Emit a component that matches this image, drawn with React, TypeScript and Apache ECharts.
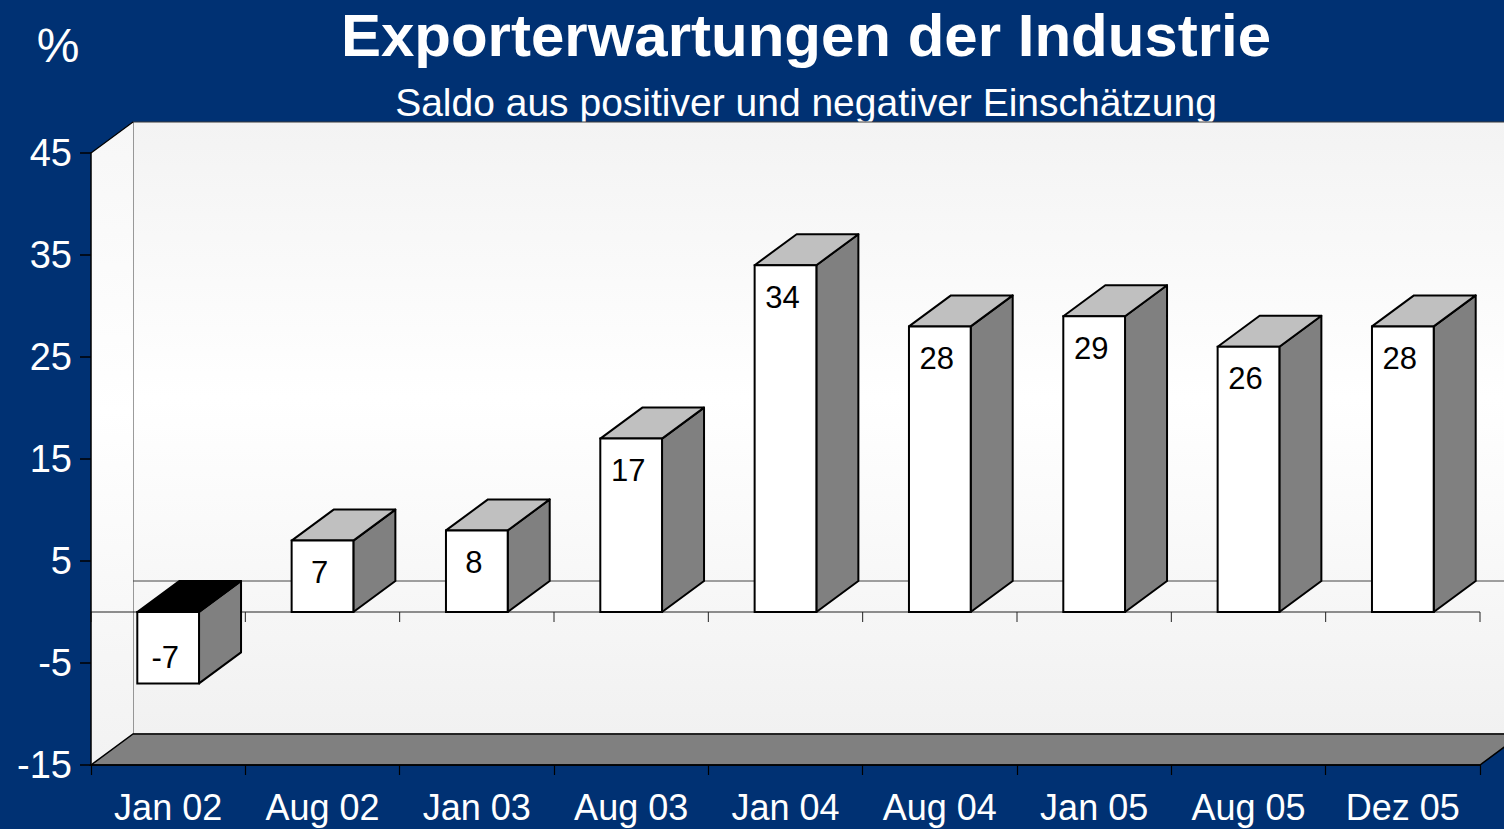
import React, { useEffect, useRef } from "react";
import * as echarts from "echarts";

// ---- data ----
const categories = ["Jan 02", "Aug 02", "Jan 03", "Aug 03", "Jan 04", "Aug 04", "Jan 05", "Aug 05", "Dez 05"];
const saldo = [-7, 7, 8, 17, 34, 28, 29, 26, 28];
const yTickValues = [-15, -5, 5, 15, 25, 35, 45];
const yMin = -15;
const yMax = 45;
const titleText = "Exporterwartungen der Industrie";
const subtitleText = "Saldo aus positiver und negativer Einschätzung";
const unitText = "%";

// ---- styling constants ----
const FONT = "'Liberation Sans', Arial, Helvetica, sans-serif";
const BG = "#003173";
const DX = 42;
const DY = -31;

export default function App() {
  const ref = useRef<HTMLDivElement | null>(null);

  useEffect(() => {
    if (!ref.current) return;
    const chart = echarts.init(ref.current, undefined, { renderer: "svg" });
    const n = categories.length;

    const wallsRender = (params: any, api: any) => {
      const cs = params.coordSys;
      const x0 = cs.x;
      const x1 = cs.x + cs.width;
      const y0 = cs.y;
      const y1 = cs.y + cs.height;
      const zeroY = api.coord([0, 0])[1];
      const backGrad = new echarts.graphic.LinearGradient(0, 0, 0, 1, [
        { offset: 0, color: "#f3f3f3" },
        { offset: 0.45, color: "#ffffff" },
        { offset: 1, color: "#f1f1f1" },
      ]);
      const sideGrad = new echarts.graphic.LinearGradient(0, 0, 0, 1, [
        { offset: 0, color: "#f7f7f7" },
        { offset: 0.45, color: "#ffffff" },
        { offset: 1, color: "#f2f2f2" },
      ]);
      const children: any[] = [
        {
          type: "rect",
          shape: { x: x0 + DX, y: y0 + DY, width: cs.width, height: cs.height },
          style: { fill: backGrad, stroke: "#3a3a3a", lineWidth: 1 },
        },
        {
          type: "polygon",
          shape: { points: [[x0, y0], [x0 + DX, y0 + DY], [x0 + DX, y1 + DY], [x0, y1]] },
          style: { fill: sideGrad },
        },
        {
          type: "line",
          shape: { x1: x0, y1: y0, x2: x0 + DX, y2: y0 + DY },
          style: { stroke: "#000", lineWidth: 1.2 },
        },
        {
          type: "polygon",
          shape: { points: [[x0, y1], [x0 + DX, y1 + DY], [x1 + DX, y1 + DY], [x1, y1]] },
          style: { fill: "#808080", stroke: "#000", lineWidth: 1.5 },
        },
        {
          type: "line",
          shape: { x1: x0 + DX, y1: zeroY + DY, x2: x1 + DX, y2: zeroY + DY },
          style: { stroke: "#444", lineWidth: 1 },
        },
        {
          type: "line",
          shape: { x1: x0, y1: zeroY, x2: x1, y2: zeroY },
          style: { stroke: "#222", lineWidth: 1 },
        },
      ];
      for (let i = 0; i <= n; i++) {
        const tx = x0 + (i * cs.width) / n;
        children.push({
          type: "line",
          shape: { x1: tx, y1: zeroY, x2: tx, y2: zeroY + 10 },
          style: { stroke: "#222", lineWidth: 1 },
        });
      }
      return { type: "group", children };
    };

    const barsRender = (params: any, api: any) => {
      const idx = api.value(0);
      const v = api.value(1);
      const base = api.coord([idx, 0]);
      const top = api.coord([idx, v]);
      const w = api.size([1, 0])[0] * 0.4;
      const xl = base[0] - w / 2;
      const xr = base[0] + w / 2;
      const yT = Math.min(base[1], top[1]);
      const yB = Math.max(base[1], top[1]);
      const labelY = v >= 0 ? yT + 32 : yB - 26;
      return {
        type: "group",
        children: [
          {
            type: "polygon",
            shape: { points: [[xr, yT], [xr + DX, yT + DY], [xr + DX, yB + DY], [xr, yB]] },
            style: { fill: "#808080", stroke: "#000", lineWidth: 2, lineJoin: "round" },
          },
          {
            type: "polygon",
            shape: { points: [[xl, yT], [xl + DX, yT + DY], [xr + DX, yT + DY], [xr, yT]] },
            style: { fill: v >= 0 ? "#c0c0c0" : "#000000", stroke: "#000", lineWidth: 2, lineJoin: "round" },
          },
          {
            type: "rect",
            shape: { x: xl, y: yT, width: w, height: yB - yT },
            style: { fill: "#ffffff", stroke: "#000", lineWidth: 2 },
          },
          {
            type: "text",
            x: base[0] - 3,
            y: labelY,
            style: {
              text: String(v),
              fill: "#000",
              font: `31px ${FONT}`,
              align: "center",
              verticalAlign: "middle",
            },
          },
        ],
      };
    };

    chart.setOption({
      animation: false,
      backgroundColor: BG,
      grid: { left: 91, right: 24, top: 153, bottom: 64, containLabel: false },
      xAxis: {
        type: "category",
        data: categories,
        z: 5,
        axisLine: { show: true, onZero: false, lineStyle: { color: "#000", width: 1.5 } },
        axisTick: { show: true, length: 10, lineStyle: { color: "#000", width: 1.2 } },
        axisLabel: { color: "#fff", fontSize: 36, fontFamily: FONT, margin: 24, interval: 0 },
        splitLine: { show: false },
      },
      yAxis: {
        type: "value",
        min: yMin,
        max: yMax,
        z: 5,
        axisLine: { show: true, lineStyle: { color: "#000", width: 1.5 } },
        axisTick: { show: true, length: 11, lineStyle: { color: "#000", width: 1.5 }, customValues: yTickValues },
        axisLabel: { color: "#fff", fontSize: 38, fontFamily: FONT, margin: 19, customValues: yTickValues },
        splitLine: { show: false },
      },
      series: [
        {
          type: "custom",
          name: "walls",
          z: 1,
          clip: false,
          silent: true,
          data: [[0, 0]],
          encode: { x: 0, y: 1 },
          renderItem: wallsRender,
        },
        {
          type: "custom",
          name: "Saldo",
          z: 2,
          clip: false,
          data: saldo.map((v, i) => [i, v]),
          encode: { x: 0, y: 1 },
          renderItem: barsRender,
        },
      ],
      graphic: [
        {
          type: "text",
          x: 806,
          y: 35,
          style: { text: titleText, fill: "#fff", font: `bold 60px ${FONT}`, align: "center", verticalAlign: "middle" },
        },
        {
          type: "text",
          x: 806,
          y: 102,
          style: { text: subtitleText, fill: "#fff", font: `39px ${FONT}`, align: "center", verticalAlign: "middle" },
        },
        {
          type: "text",
          x: 58,
          y: 45,
          style: { text: unitText, fill: "#fff", font: `48px ${FONT}`, align: "center", verticalAlign: "middle" },
        },
      ],
    });

    return () => chart.dispose();
  }, []);

  return (
    <div
      ref={ref}
      style={{ position: "absolute", left: 0, top: 0, width: 1504, height: 829 }}
    />
  );
}
